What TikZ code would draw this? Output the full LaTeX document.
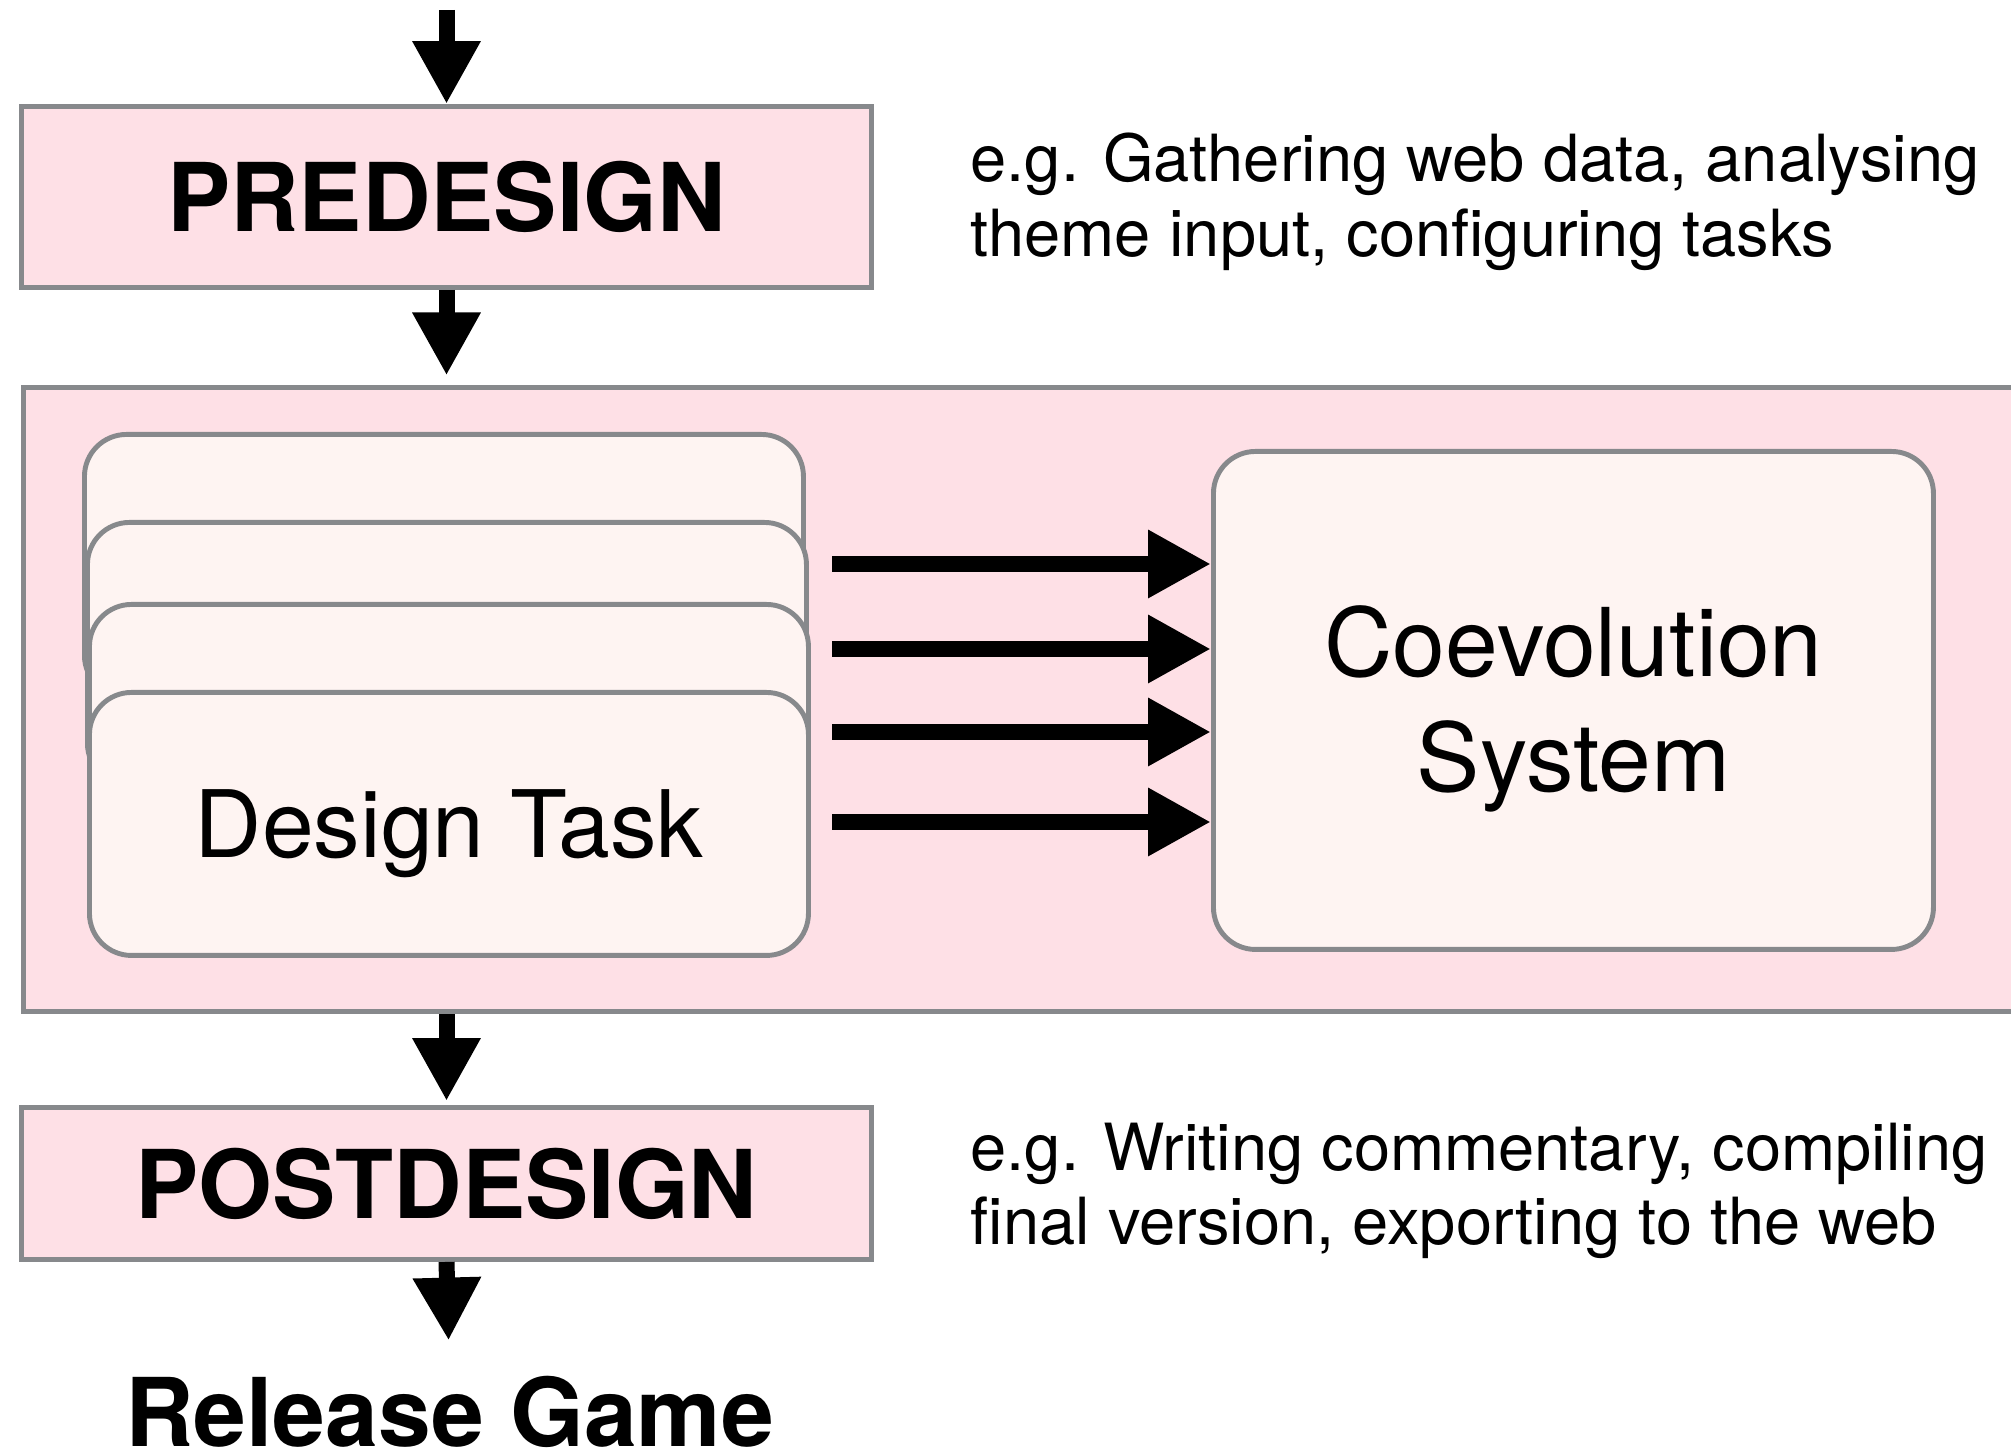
\documentclass[tikz,border=0pt]{standalone}
\usepackage{fontspec}
\setmainfont{TeX Gyre Heros}
\usepackage{xcolor}
\usetikzlibrary{arrows.meta,positioning,calc}

\definecolor{frameGray}{HTML}{87898C}
\definecolor{stagePink}{HTML}{FEE0E6}
\definecolor{taskPink}{HTML}{FEF4F2}

\newcommand\TaskW{7.19cm}
\newcommand\TaskH{2.63cm}

\tikzset{
  stage/.style={
    shape = rectangle,
    draw = frameGray,
    fill = stagePink,
    line width = 1.4pt,
    inner sep = 0pt
  },
}
\tikzset{
  task/.style={
    shape = rectangle,
    draw = frameGray,
    fill = taskPink,
    line width = 1.4pt,
    rounded corners = 0.42cm,
    minimum width = \TaskW,
    minimum height = \TaskH,
    anchor = north west,
    inner sep = 0pt
  },
}
\tikzset{
  flow/.style={
    line width = 0.16cm,
    -{Triangle[length=0.63cm,width=0.64cm]}
  },
  heading/.style={
    font = \fontsize{27}{30}\selectfont\bfseries
  },
  note/.style={
    anchor = north west,
    align = left,
    inner sep = 0pt,
    font = \fontsize{18.5}{21.3}\selectfont
  }
}

\begin{document}
\begin{tikzpicture}
    \clip (0,0) rectangle (20.11,-14.56);

    % the three stages
    \node[stage, heading, minimum width=8.50cm, minimum height=1.81cm] (predesign) at (4.465,-1.97) {PREDESIGN};
    \node[stage, anchor=north west, minimum width=20.6cm, minimum height=6.24cm] (loop) at (0.215,-3.855) {};
    \node[stage, heading, minimum width=8.50cm, minimum height=1.52cm] (postdesign) at (4.465,-11.835) {POSTDESIGN};

    % stacked design tasks, back to front
    \node[task] (task1) at (0.82,-4.32) {};
    \node[task] (task2) at (0.85,-5.20) {};
    \node[task] (task3) at (0.87,-6.02) {};
    \node[task, font=\fontsize{26.5}{30}\selectfont, text depth=0pt] (task4) at (0.87,-6.90) {Design Task};

    \node[task, minimum width=7.20cm, minimum height=4.98cm, align=center, text depth=0.04cm,
          font=\fontsize{27}{32.7}\selectfont] (coevo) at (12.11,-4.49) {Coevolution\\System};

    % tasks feeding the coevolution system
    \coordinate (in1) at (8.32,-5.64);
    \coordinate (in2) at (8.32,-6.49);
    \coordinate (in3) at (8.32,-7.32);
    \coordinate (in4) at (8.32,-8.22);
    \draw[flow] (in1) -- (in1 -| coevo.west);
    \draw[flow] (in2) -- (in2 -| coevo.west);
    \draw[flow] (in3) -- (in3 -| coevo.west);
    \draw[flow] (in4) -- (in4 -| coevo.west);

    % main flow
    \coordinate (entry) at (4.465,-0.10);
    \node[heading, inner sep=0pt] (release) at (4.495,-14.12) {Release Game};

    \draw[flow] (entry) -- (predesign.north);
    \draw[flow, shorten >=0.1cm] (predesign.south) -- (predesign.south |- loop.north);
    \draw[flow, shorten >=0.04cm] (postdesign.north |- loop.south) -- (postdesign.north);
    \draw[flow, shorten >=0.35cm] (postdesign.south) -- (release.north);

    % side notes
    \node[note] (prenote) at (9.70,-1.32) {e.g. Gathering web data, analysing\\theme input, configuring tasks};
    \node[note] (postnote) at (9.70,-11.22) {e.g. Writing commentary, compiling\\final version, exporting to the web};
\end{tikzpicture}
\end{document}
